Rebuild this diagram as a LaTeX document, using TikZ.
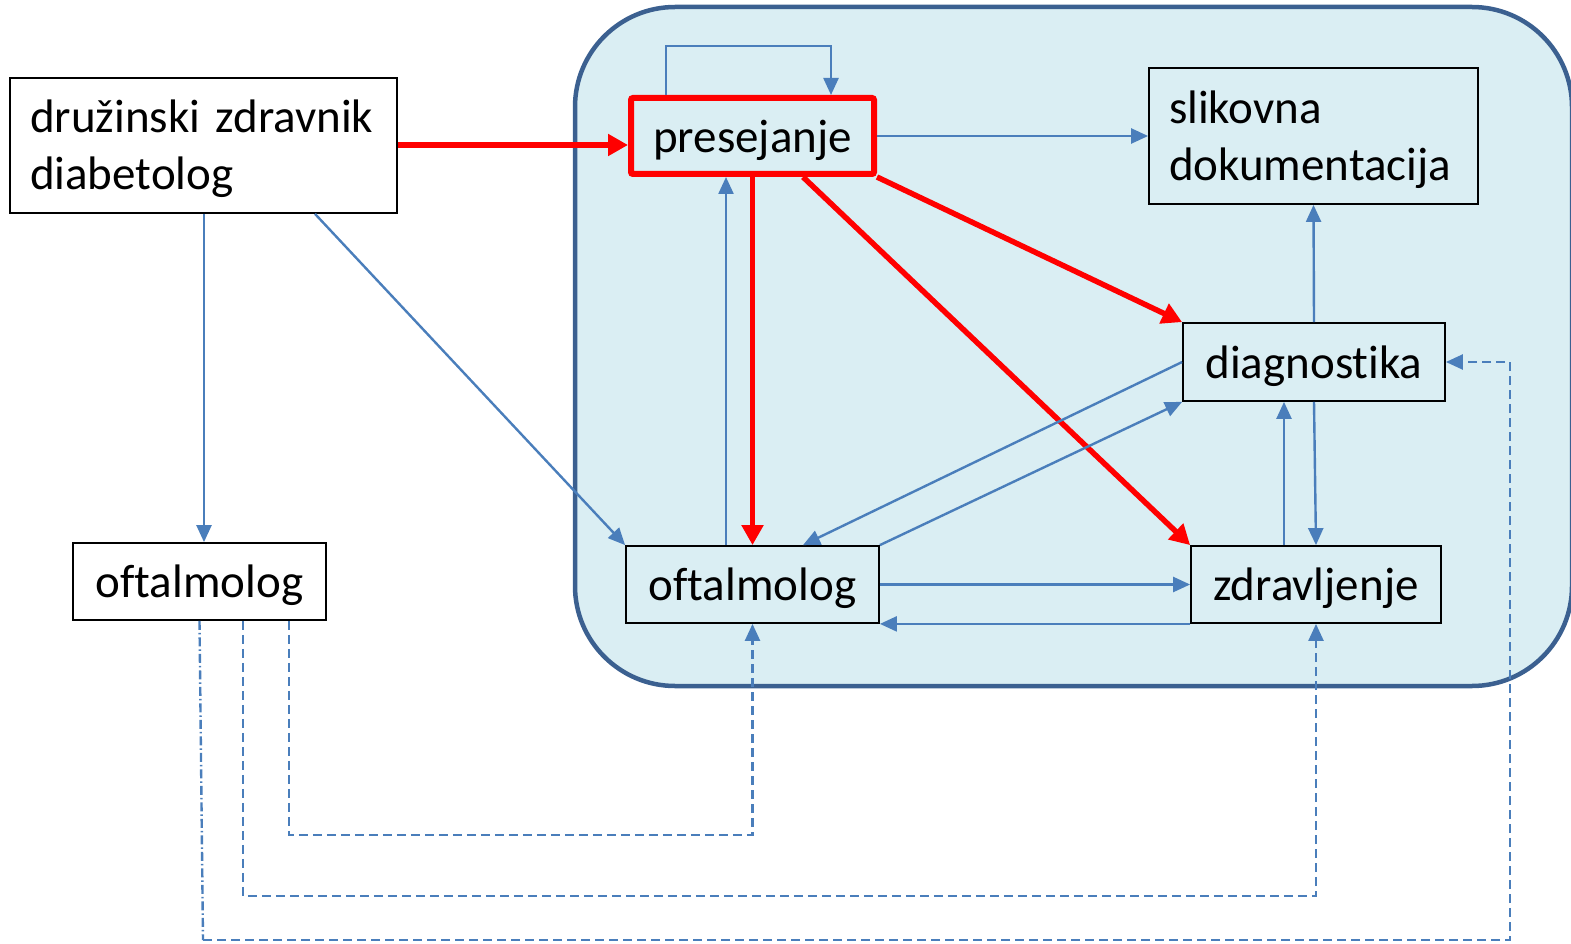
\documentclass[tikz,border=0pt]{standalone}
\usepackage{fontspec}
\setmainfont{Carlito}[Ligatures=NoCommon]
\usetikzlibrary{arrows.meta}
\definecolor{linkblue}{HTML}{4A7EBB}
\definecolor{areafill}{HTML}{DAEEF3}
\definecolor{areaborder}{HTML}{3B6090}

\begin{document}
\begin{tikzpicture}[x=1pt, y=-1pt,
                boxnode/.style={rectangle, draw=black, line width=1.8pt, inner sep=0pt, font=\fontsize{47}{57}\selectfont},
                whitesquarednode/.style={boxnode, fill=white, text depth=0pt},
                bluesquarednode/.style={boxnode, fill=areafill, text depth=0pt},
                redsquarednode/.style={bluesquarednode, draw=red, line width=6pt, rounded corners=2pt},
                twolinenode/.style={boxnode, text height=40pt, align=left},
                bluearrow/.style={-{Triangle[length=17pt,width=15pt]}, draw=linkblue, line width=2.4pt},
                redarrow/.style={-{Triangle[length=20pt,width=21pt]}, draw=red, line width=5.5pt},
                dashline/.style={bluearrow, dash pattern=on 9pt off 5pt},
                ]
                \useasboundingbox (0,0) rectangle (1571,944);
                \draw[areaborder, fill=areafill, line width=4.5pt, rounded corners=100] (575,7) rectangle (1572,686);

                \node[twolinenode, fill=white, minimum width=387, minimum height=135, text width=347] (druz) at (203.5,145.5) {družinski zdravnik\\diabetolog};
                \node[whitesquarednode, minimum width=253, minimum height=77] (ofta) at (199.5,581.5) {oftalmolog};

                \node[redsquarednode, minimum width=243, minimum height=76] (pres) at (752.5,136) {presejanje};
                \node[twolinenode, fill=areafill, minimum width=329, minimum height=136, text width=289] (slik) at (1313.5,136) {slikovna\\dokumentacija};
                \node[bluesquarednode, minimum width=262, minimum height=78] (diag) at (1314,362) {diagnostika};
                \node[bluesquarednode, minimum width=253, minimum height=77] (oft) at (752.5,584.5) {oftalmolog};
                \node[bluesquarednode, minimum width=250, minimum height=77] (zdr) at (1316,584.5) {zdravljenje};

                \coordinate (loop) at (750,46);
                \coordinate (dd) at (203,940);

                \draw[redarrow] (druz.east |- 0,145) -- (pres.west |- 0,145);
                \draw[redarrow] (pres.south) -- (oft.north);
                \draw[redarrow] (pres.south east) -- (diag.north west);
                \draw[redarrow] (803,0 |- pres.south) -- (zdr.north west);

                \draw[bluearrow] (204,0 |- druz.south) -- (204,0 |- ofta.north);
                \draw[bluearrow] (315,0 |- druz.south) -- (oft.north west);
                \draw[bluearrow] (666,0 |- pres.north) |- (loop) -| (831,0 |- pres.north);
                \draw[bluearrow] (pres.east) -- (slik.west);
                \draw[bluearrow] (726,0 |- oft.north) -- (726,0 |- pres.south);
                \draw[bluearrow] (diag.north) -- (slik.south);
                \draw[bluearrow] (diag.west) -- (803,0 |- oft.north);
                \draw[bluearrow] (oft.north east) -- (diag.south west);
                \draw[bluearrow] (1284,0 |- zdr.north) -- (1284,0 |- diag.south);
                \draw[bluearrow] (diag.south) -- (zdr.north);
                \draw[bluearrow] (oft.east) -- (zdr.west);
                \draw[bluearrow] (zdr.south west) -- (oft.south east);

                \draw[dashline] (289,0 |- ofta.south) -- (289,835) -| (oft.south);
                \draw[dashline] (243,0 |- ofta.south) -- (243,896) -| (zdr.south);
                \draw[draw=linkblue, line width=2.4pt, dash pattern=on 9pt off 3pt on 1.5pt off 3pt] (ofta.south) -- (dd);
                \draw[dashline] (dd) -| (1510,0 |- diag.east) -- (diag.east);
            \end{tikzpicture}
\end{document}
